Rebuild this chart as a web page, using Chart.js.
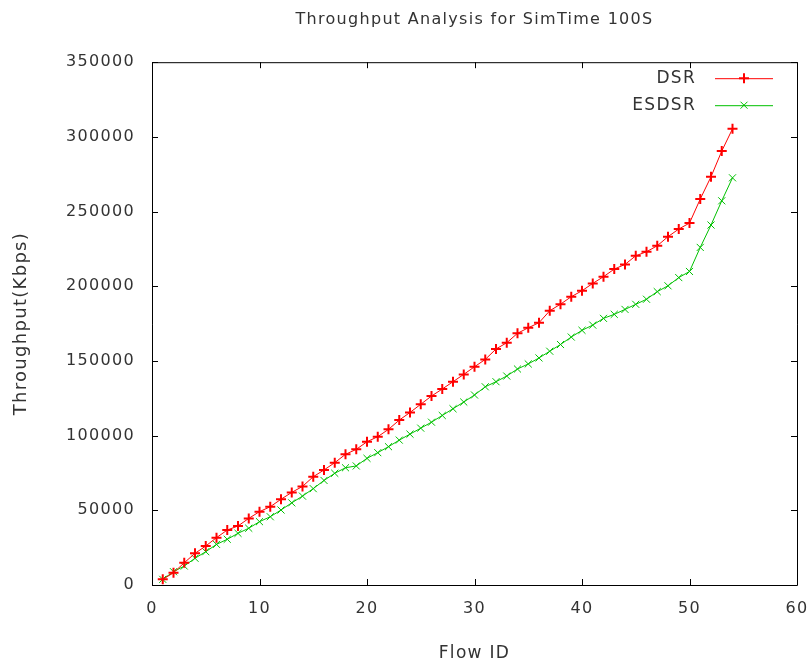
<!DOCTYPE html>
<html>
<head>
<meta charset="utf-8">
<script src="https://cdn.jsdelivr.net/npm/chart.js@4/dist/chart.umd.min.js"></script>
<style>
  html, body { margin: 0; padding: 0; background: #fff; }
  #wrap { width: 812px; height: 664px; }
</style>
</head>
<body>
<div id="wrap"><canvas id="tp"></canvas></div>
<script>
// flow ids 1..54
const flowIds = [
  1, 2, 3, 4, 5, 6, 7, 8, 9, 10, 11, 12, 13, 14, 15, 16, 17, 18,
  19, 20, 21, 22, 23, 24, 25, 26, 27, 28, 29, 30, 31, 32, 33, 34, 35, 36,
  37, 38, 39, 40, 41, 42, 43, 44, 45, 46, 47, 48, 49, 50, 51, 52, 53, 54
];

const dsrValues = [
  3800, 8200, 14900, 21200, 26100, 31700, 36800, 39500, 44600, 49100, 52400, 57400,
  62000, 66000, 72500, 77000, 81900, 87500, 90800, 95900, 99300, 104200, 110400, 115500,
  121000, 126500, 131200, 136100, 141000, 146100, 151000, 158000, 162200, 168500, 172200, 175600,
  183600, 188000, 193000, 197000, 201900, 206400, 211500, 214600, 220400, 223100, 227100, 233200,
  238300, 242300, 258400, 273300, 290500, 305400
];

const esdsrValues = [
  3800, 8900, 12700, 17900, 22300, 27200, 30600, 34600, 38000, 42400, 45700, 50200,
  55000, 59500, 64500, 70000, 74800, 78500, 79700, 84800, 88600, 92600, 97000, 101000,
  105000, 109000, 113500, 118000, 122500, 127200, 132700, 136100, 139900, 144600, 148000, 152000,
  156500, 161000, 166000, 170500, 174000, 178500, 181200, 184500, 187900, 191300, 196400, 200300,
  205800, 209900, 226000, 241000, 257200, 272600
];

const xTicks = [0, 10, 20, 30, 40, 50, 60];
const yTicks = [0, 50000, 100000, 150000, 200000, 250000, 300000, 350000];

const textColor = '#333333';
const tickFont = { family: 'DejaVu Sans', size: 16 };

// the gnuplot text is wider than DejaVu, add a bit of spacing
const spacingPlugin = {
  id: 'spacing',
  beforeUpdate(chart) { chart.ctx.letterSpacing = '1.3px'; },
  beforeDraw(chart) { chart.ctx.letterSpacing = '1.3px'; }
};

// gnuplot style frame: full box with inward ticks on all four sides
const framePlugin = {
  id: 'frame',
  afterDraw(chart) {
    const { ctx, chartArea: a, scales } = chart;
    const len = 6;
    ctx.save();
    ctx.strokeStyle = '#000';
    ctx.lineWidth = 1;
    ctx.beginPath();
    ctx.rect(a.left + 0.5, a.top + 0.5, a.right - a.left, a.bottom - a.top);
    xTicks.forEach(v => {
      const x = Math.round(scales.x.getPixelForValue(v)) + 0.5;
      ctx.moveTo(x, a.bottom); ctx.lineTo(x, a.bottom - len);
      ctx.moveTo(x, a.top); ctx.lineTo(x, a.top + len);
    });
    yTicks.forEach(v => {
      const y = Math.round(scales.y.getPixelForValue(v)) + 0.5;
      ctx.moveTo(a.left, y); ctx.lineTo(a.left + len, y);
      ctx.moveTo(a.right, y); ctx.lineTo(a.right - len, y);
    });
    ctx.stroke();
    ctx.restore();
  }
};

// legend in the upper right corner, text to the left of the sample
const keyPlugin = {
  id: 'key',
  afterDatasetsDraw(chart) {
    const { ctx, chartArea: a } = chart;
    ctx.save();
    ctx.font = '17px "DejaVu Sans"';
    ctx.textAlign = 'right';
    ctx.textBaseline = 'middle';
    chart.data.datasets.forEach((ds, i) => {
      const y = a.top + 16 + i * 27;
      const x1 = a.right - 82, x2 = a.right - 24;
      ctx.fillStyle = textColor;
      ctx.fillText(ds.label, x1 - 19, y);
      ctx.strokeStyle = ds.borderColor;
      ctx.lineWidth = 1;
      ctx.beginPath();
      ctx.moveTo(x1, y + 0.5); ctx.lineTo(x2, y + 0.5);
      ctx.stroke();
      const cx = (x1 + x2) / 2, r = 5;
      ctx.lineWidth = ds.pointBorderWidth;
      ctx.beginPath();
      if (ds.pointStyle === 'cross') {
        ctx.moveTo(cx, y - r); ctx.lineTo(cx, y + r);
        ctx.moveTo(cx - r, y); ctx.lineTo(cx + r, y);
      } else {
        const d = r * 0.7;
        ctx.moveTo(cx - d, y - d); ctx.lineTo(cx + d, y + d);
        ctx.moveTo(cx - d, y + d); ctx.lineTo(cx + d, y - d);
      }
      ctx.stroke();
    });
    ctx.restore();
  }
};

new Chart(document.getElementById('tp'), {
  type: 'line',
  data: {
    datasets: [
      {
        label: 'DSR',
        data: flowIds.map((f, i) => ({ x: f, y: dsrValues[i] })),
        borderColor: '#ff0000',
        backgroundColor: '#ff0000',
        borderWidth: 1,
        pointStyle: 'cross',
        pointRadius: 5,
        pointBorderWidth: 2,
        tension: 0
      },
      {
        label: 'ESDSR',
        data: flowIds.map((f, i) => ({ x: f, y: esdsrValues[i] })),
        borderColor: '#00c000',
        backgroundColor: '#00c000',
        borderWidth: 1,
        pointStyle: 'crossRot',
        pointRadius: 5,
        pointBorderWidth: 1,
        tension: 0
      }
    ]
  },
  options: {
    responsive: true,
    maintainAspectRatio: false,
    animation: false,
    layout: { padding: { left: 0, right: 15, top: 0, bottom: 0 } },
    plugins: {
      legend: { display: false },
      tooltip: { enabled: false },
      title: {
        display: true,
        text: 'Throughput Analysis for SimTime 100S',
        color: textColor,
        font: { family: 'DejaVu Sans', size: 16, weight: 'normal' },
        fullSize: false,
        padding: { top: 10, bottom: 33 }
      }
    },
    scales: {
      x: {
        type: 'linear',
        min: 0,
        max: 60,
        afterBuildTicks: s => { s.ticks = xTicks.map(v => ({ value: v })); },
        afterFit: s => { s.height = 79; s.paddingLeft = 0; s.paddingRight = 0; },
        grid: { display: false, drawTicks: false },
        border: { display: false },
        ticks: { color: textColor, font: tickFont, padding: 14, maxRotation: 0 },
        title: {
          display: true,
          text: 'Flow ID',
          color: textColor,
          font: { family: 'DejaVu Sans', size: 17 },
          padding: { top: 14, bottom: 0 }
        }
      },
      y: {
        min: 0,
        max: 350000,
        afterBuildTicks: s => { s.ticks = yTicks.map(v => ({ value: v })); },
        afterFit: s => { s.width = 152; },
        grid: { display: false, drawTicks: false },
        border: { display: false },
        ticks: { color: textColor, font: tickFont, padding: 17, callback: v => String(v) },
        title: {
          display: true,
          text: 'Throughput(Kbps)',
          color: textColor,
          font: { family: 'DejaVu Sans', size: 18 },
          padding: { top: 11, bottom: 0 }
        }
      }
    }
  },
  plugins: [spacingPlugin, framePlugin, keyPlugin]
});
</script>
</body>
</html>
